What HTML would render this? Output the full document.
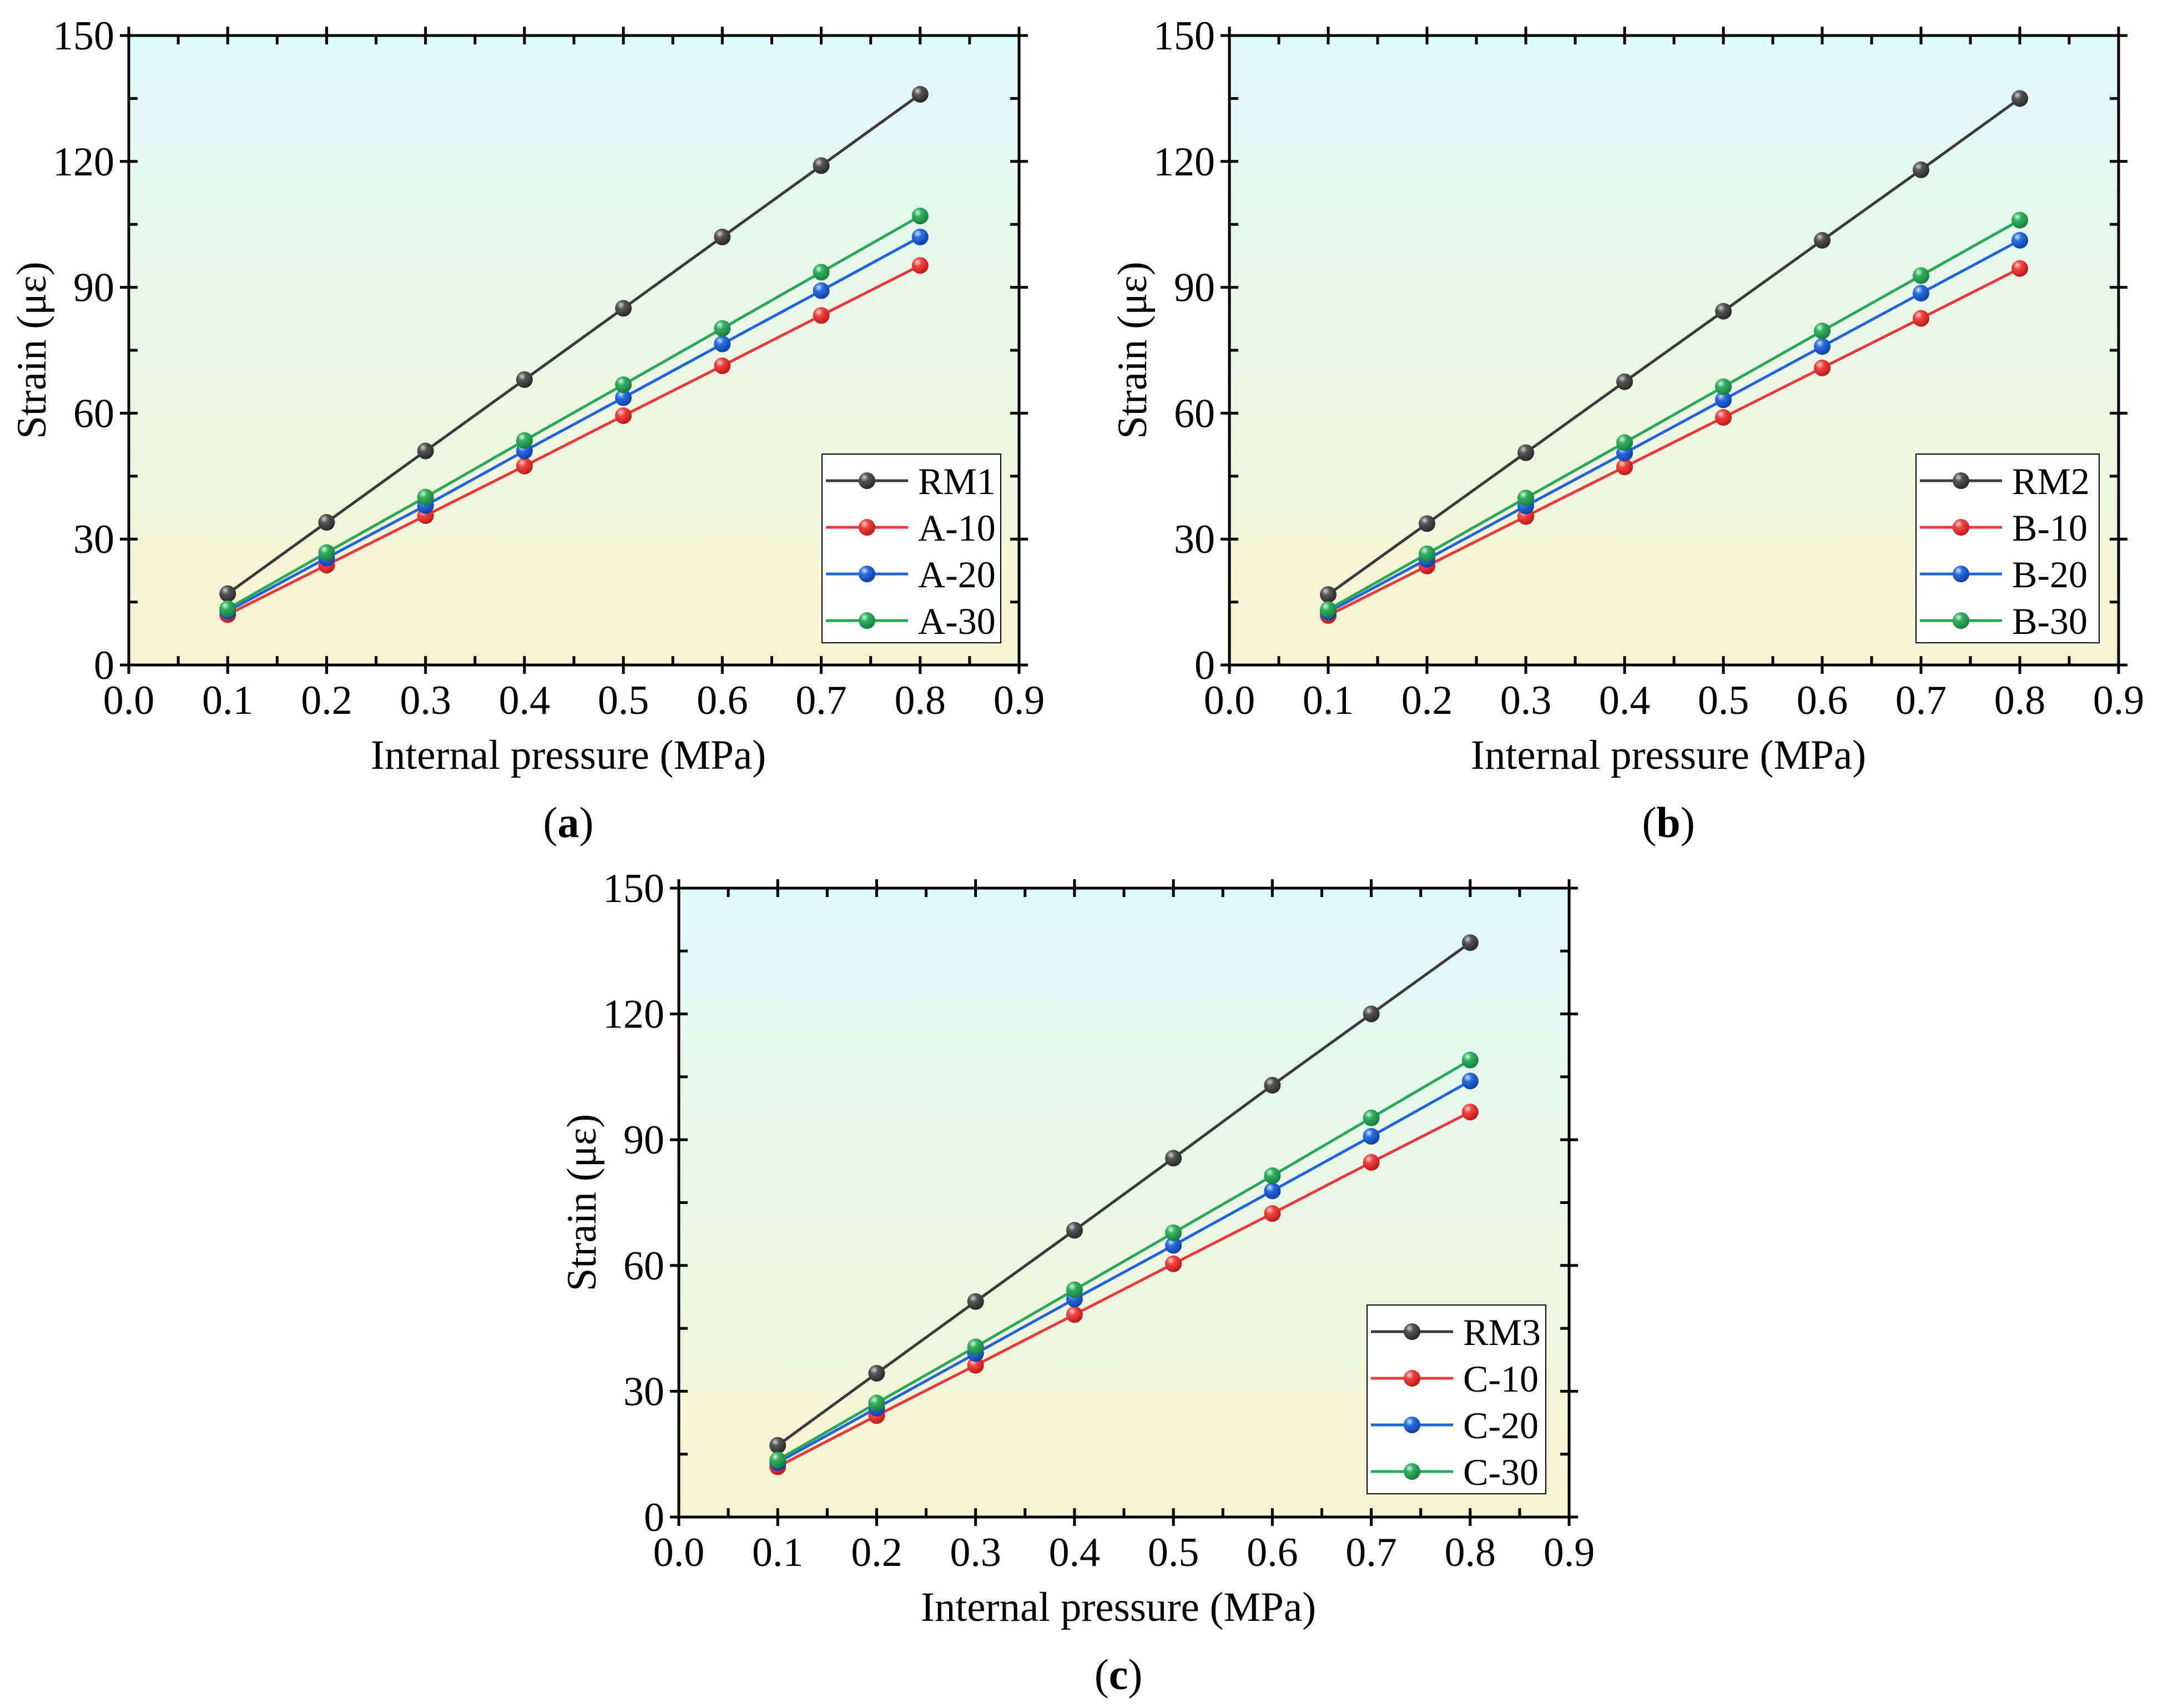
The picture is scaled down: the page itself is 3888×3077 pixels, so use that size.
<!DOCTYPE html>
<html><head><meta charset="utf-8"><style>
html,body{margin:0;padding:0;background:#fff}
svg{display:block}
text{font-family:"Liberation Serif",serif;fill:#000}
</style></head><body>
<svg id="fig" width="3888" height="3077" viewBox="0 0 3888 3077" xmlns="http://www.w3.org/2000/svg">
<defs>
<linearGradient id="bg" x1="0" y1="0" x2="0" y2="1"><stop offset="0" stop-color="#dffafa"/><stop offset="1" stop-color="#f6f4d0"/></linearGradient>
<radialGradient id="gk" cx="0.35" cy="0.3" r="0.7"><stop offset="0" stop-color="#cfcfcf"/><stop offset="0.35" stop-color="#555"/><stop offset="1" stop-color="#2a2a2a"/></radialGradient>
<radialGradient id="gr" cx="0.35" cy="0.3" r="0.7"><stop offset="0" stop-color="#ffd0d0"/><stop offset="0.35" stop-color="#f04444"/><stop offset="1" stop-color="#c01a1a"/></radialGradient>
<radialGradient id="gb" cx="0.35" cy="0.3" r="0.7"><stop offset="0" stop-color="#cfe0ff"/><stop offset="0.35" stop-color="#2a6ee0"/><stop offset="1" stop-color="#1040a8"/></radialGradient>
<radialGradient id="gg" cx="0.35" cy="0.3" r="0.7"><stop offset="0" stop-color="#d0f5dc"/><stop offset="0.35" stop-color="#34b060"/><stop offset="1" stop-color="#178040"/></radialGradient>
</defs>
</svg>
<script>
const xValues=[0.1,0.2,0.3,0.4,0.5,0.6,0.7,0.8];
const xTicks=["0.0","0.1","0.2","0.3","0.4","0.5","0.6","0.7","0.8","0.9"];
const yTicks=[0,30,60,90,120,150];
const aRM1=[17,34,51,68,85,102,119,136];
const aA10=[12,23.8,35.6,47.4,59.4,71.3,83.3,95.2];
const aA20=[12.8,25.5,38,51,63.7,76.5,89.2,102];
const aA30=[13.4,26.8,40,53.5,66.8,80.2,93.6,107];
const bRM2=[16.8,33.7,50.6,67.5,84.3,101.2,118,135];
const bB10=[11.8,23.6,35.4,47.2,59,70.8,82.6,94.5];
const bB20=[12.6,25.2,37.9,50.5,63.2,75.9,88.6,101.2];
const bB30=[13.2,26.5,39.8,53,66.3,79.6,92.8,106];
const cRM3=[17.1,34.3,51.4,68.4,85.6,103,120,137];
const cC10=[12,24.2,36.2,48.3,60.4,72.4,84.6,96.6];
const cC20=[13,26,39,52,64.8,77.8,90.8,104];
const cC30=[13.6,27.2,40.6,54.2,67.8,81.4,95.2,109];
const seriesColors=["#3a3a3a","#e83a3a","#1f64dc","#2aa85a"];
const seriesGrad=["gk","gr","gb","gg"];

const svg=document.getElementById('fig');
const NS="http://www.w3.org/2000/svg";
function mk(tag,attrs,parent){const e=document.createElementNS(NS,tag);for(const k in attrs)e.setAttribute(k,attrs[k]);(parent||svg).appendChild(e);return e;}

function panel(id,L,R,T,B,series,names,leg,cap){
  const g=mk('g',{});
  
  
  const sx=v=>L+(v/0.9)*(R-L);
  const sy=v=>B-(v/150)*(B-T);
  const bg=mk('rect',{x:L,y:T,width:R-L,height:B-T,fill:'url(#bg)'},g);
  
  
  series.forEach((s,si)=>{
    const pts=s.map((v,i)=>sx(xValues[i])+','+sy(v)).join(' ');
    const pl=mk('polyline',{points:pts,fill:'none',stroke:seriesColors[si],'stroke-width':5},g);
    
    
  });
  series.forEach((s,si)=>{
    s.forEach((v,i)=>{
      const c=mk('circle',{cx:sx(xValues[i]),cy:sy(v),r:15,fill:'url(#'+seriesGrad[si]+')'},g);
      
      
    });
  });
  const fr=mk('rect',{x:L,y:T,width:R-L,height:B-T,fill:'none',stroke:'#000','stroke-width':5},g);
  
  
  xTicks.forEach((t,i)=>{
    const x=sx(i*0.1);
    mk('line',{x1:x,x2:x,y1:B-16,y2:B+16,stroke:'#000','stroke-width':5},g);
    mk('line',{x1:x,x2:x,y1:T-16,y2:T+16,stroke:'#000','stroke-width':5},g);
    if(i<9){const xm=sx(i*0.1+0.05);
      mk('line',{x1:xm,x2:xm,y1:B-16,y2:B,stroke:'#000','stroke-width':5},g);
      mk('line',{x1:xm,x2:xm,y1:T,y2:T+16,stroke:'#000','stroke-width':5},g);}
    const tx=mk('text',{x:x,y:B+88,'text-anchor':'middle','font-size':74},g);
    tx.textContent=t;
    
    
  });
  yTicks.forEach((t,i)=>{
    const y=sy(t);
    mk('line',{x1:L-16,x2:L+16,y1:y,y2:y,stroke:'#000','stroke-width':5},g);
    mk('line',{x1:R-16,x2:R+16,y1:y,y2:y,stroke:'#000','stroke-width':5},g);
    if(i<5){const ym=sy(t+15);
      mk('line',{x1:L,x2:L+16,y1:ym,y2:ym,stroke:'#000','stroke-width':5},g);
      mk('line',{x1:R-16,x2:R,y1:ym,y2:ym,stroke:'#000','stroke-width':5},g);}
    const ty=mk('text',{x:L-26,y:y+25,'text-anchor':'end','font-size':74},g);
    ty.textContent=String(t);
    
    
  });
  const xt=mk('text',{x:(L+R)/2-10,y:B+187,'text-anchor':'middle','font-size':75},g);
  xt.textContent='Internal pressure (MPa)';
  
  
  const yt=mk('text',{x:0,y:0,'text-anchor':'middle','font-size':75,transform:'translate('+(L-150)+','+((T+B)/2)+') rotate(-90)'},g);
  yt.textContent='Strain (με)';
  
  
  const cp=mk('text',{x:(L+R)/2-10,y:B+310,'text-anchor':'middle','font-size':78},g);
  cp.innerHTML='(<tspan font-weight="bold">'+cap+'</tspan>)';
  
  
  const lg=mk('g',{},g);
  
  
  mk('rect',{x:leg[0],y:leg[1],width:leg[2],height:leg[3],fill:'#fff',stroke:'#000','stroke-width':2},lg);
  names.forEach((n,i)=>{
    const y=leg[1]+48+i*84;
    const e=mk('g',{},lg);
    
    
    mk('line',{x1:leg[0]+7,x2:leg[0]+155,y1:y,y2:y,stroke:seriesColors[i],'stroke-width':5},e);
    mk('circle',{cx:leg[0]+81,cy:y,r:15,fill:'url(#'+seriesGrad[i]+')'},e);
    const t=mk('text',{x:leg[0]+173,y:y+24,'font-size':68},e);
    t.textContent=n;
  });
}
panel('a',232,1836,64,1198,[aRM1,aA10,aA20,aA30],['RM1','A-10','A-20','A-30'],[1481,818,322,340],'a');
panel('b',2215,3817,64,1198,[bRM2,bB10,bB20,bB30],['RM2','B-10','B-20','B-30'],[3452,818,330,340],'b');
panel('c',1223,2827,1600,2733,[cRM3,cC10,cC20,cC30],['RM3','C-10','C-20','C-30'],[2463,2351,322,340],'c');
</script>
</body></html>
